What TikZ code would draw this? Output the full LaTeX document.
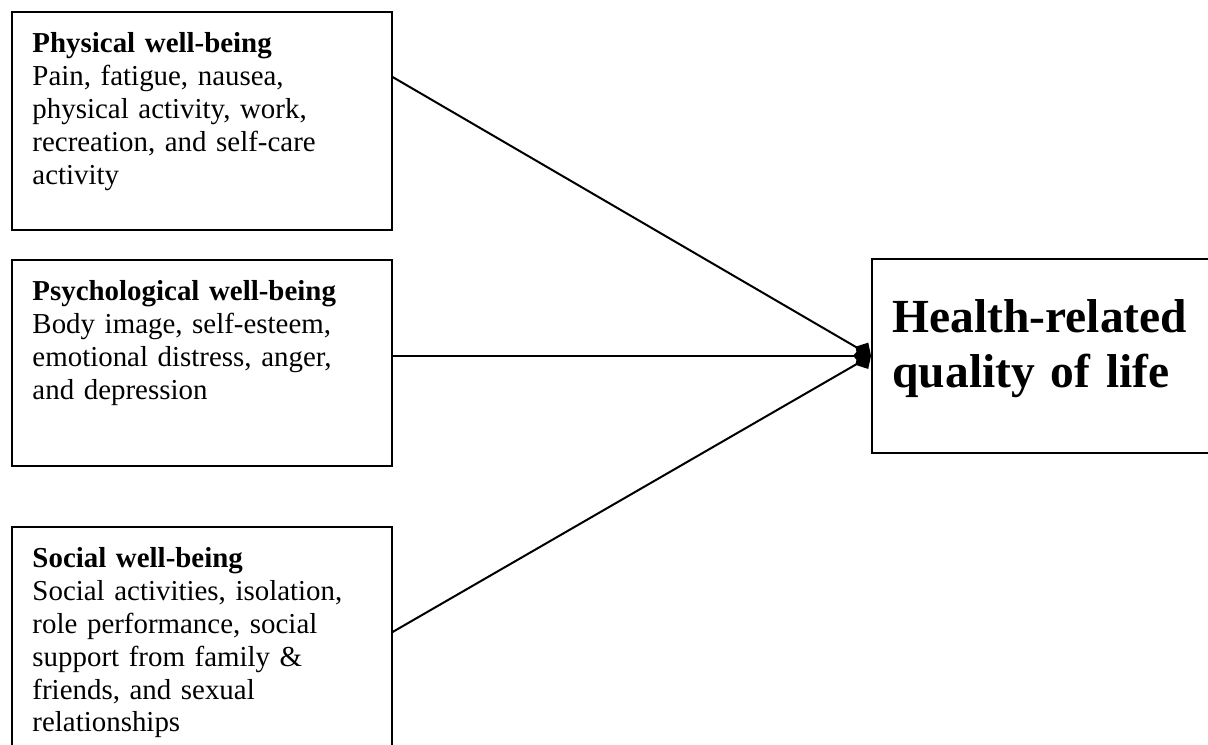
\documentclass[tikz,border=0pt]{standalone}
\usepackage{fontspec}
\setmainfont{Liberation Serif}
\usetikzlibrary{arrows.meta}

\begin{document}
\begin{tikzpicture}[x=0.5pt, y=-0.5pt,
    factor/.style={rectangle, draw, line width=0.8pt, anchor=north west, align=left, inner xsep=10.35pt, inner ysep=0pt, text width=169.3pt, font=\fontsize{14.45}{16.4}\selectfont, text height=20.5pt},
    outcome/.style={rectangle, draw, line width=0.8pt, anchor=north west, align=left, inner xsep=10.35pt, inner ysep=0pt, text width=200pt, font=\fontsize{23.75}{27.5}\selectfont\bfseries, text height=36.85pt, text depth=60.15pt},
    link/.style={line width=1pt, -{Diamond[length=9pt, width=10pt]}}]
    \path [use as bounding box] (0,0) rectangle (1208,744);
    \clip (0,0) rectangle (1208,744);

    \node (phys) [factor, text depth=88.5pt] at (11,11) {\textbf{Physical well-being}\\Pain, fatigue, nausea,\\physical activity, work,\\recreation, and self-care\\activity};
    \node (psych) [factor, text depth=82.5pt] at (11,259) {\textbf{Psychological well-being}\\Body image, self-esteem,\\emotional distress, anger,\\and depression};
    \node (soc) [factor, text depth=96.5pt] at (11,526) {\textbf{Social well-being}\\Social activities, isolation,\\role performance, social\\support from family \&\\friends, and sexual\\relationships};
    \node (hrqol) [outcome] at (871,258) {Health-related\\quality of life};

    \draw [link] ([yshift=-33pt]phys.north east) -- (hrqol.west);
    \draw [link] (psych.east |- hrqol.west) -- (hrqol.west);
    \draw [link] ([yshift=-53pt]soc.north east) -- (hrqol.west);
\end{tikzpicture}
\end{document}
